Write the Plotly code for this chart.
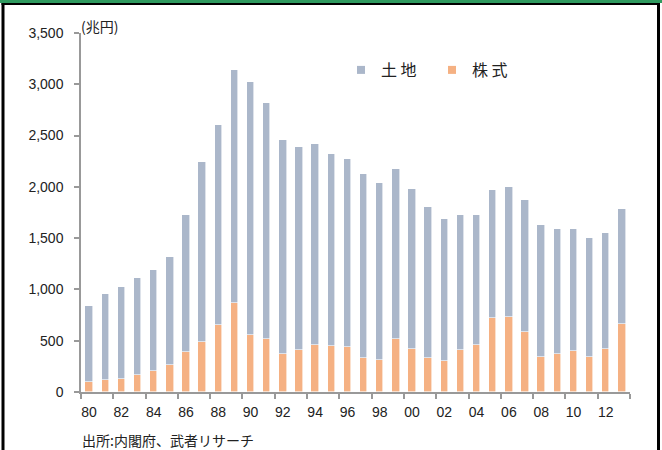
import plotly.graph_objects as go

years = list(range(1980, 2014))
land_total = [838, 958, 1027, 1108, 1189, 1319, 1729, 2239, 2603, 3139,
              3019, 2820, 2454, 2386, 2415, 2320, 2269, 2122, 2038, 2171,
              1982, 1807, 1687, 1729, 1729, 1969, 1996, 1875, 1631, 1592,
              1592, 1498, 1553, 1781]
stocks = [100, 114, 127, 169, 205, 263, 393, 490, 653, 868,
          556, 517, 367, 409, 461, 448, 436, 328, 315, 517,
          422, 328, 302, 409, 461, 718, 731, 585, 341, 367,
          397, 341, 419, 665]
land = [t - s for t, s in zip(land_total, stocks)]
tick_years = list(range(1980, 2014, 2))
tick_labels = ["80", "82", "84", "86", "88", "90", "92", "94", "96", "98",
               "00", "02", "04", "06", "08", "10", "12"]
y_ticks = [0, 500, 1000, 1500, 2000, 2500, 3000, 3500]
y_labels = ["0", "500", "1,000", "1,500", "2,000", "2,500", "3,000", "3,500"]

LAND_C = "#abb7ca"
STOCK_C = "#f5b183"

W, H = 662, 450
L, R, T, B = 81, 32, 33, 58
PW, PH = W - L - R, H - T - B

def px(x):
    return (x - L) / PW

def py(y):
    return (H - B - y) / PH

fig = go.Figure()
fig.add_bar(x=years, y=stocks, name="株式", marker=dict(color=STOCK_C, line=dict(color="white", width=0.6)),
            width=0.46, showlegend=False)
fig.add_bar(x=years, y=land, name="土地", marker=dict(color=LAND_C, line=dict(color="white", width=0.6)),
            width=0.46, showlegend=False)
# legend proxies
fig.add_scatter(x=[None], y=[None], mode="markers", name="土 地",
                marker=dict(symbol="square", size=8, color=LAND_C))
fig.add_scatter(x=[None], y=[None], mode="markers", name="株 式",
                marker=dict(symbol="square", size=8, color=STOCK_C))

shapes = [
    dict(type="rect", xref="paper", yref="paper", x0=px(0), x1=px(W), y0=py(0), y1=py(3),
         fillcolor="#2f9a5f", line=dict(width=0), layer="above"),
    dict(type="rect", xref="paper", yref="paper", x0=px(1.5), x1=px(657), y0=py(3), y1=py(5),
         fillcolor="black", line=dict(width=0), layer="above"),
    dict(type="rect", xref="paper", yref="paper", x0=px(1.5), x1=px(4.5), y0=py(3), y1=py(H),
         fillcolor="black", line=dict(width=0), layer="above"),
    dict(type="rect", xref="paper", yref="paper", x0=px(657), x1=px(660), y0=py(3), y1=py(H),
         fillcolor="black", line=dict(width=0), layer="above"),
]

fig.update_layout(
    width=W, height=H,
    margin=dict(l=L, r=R, t=T, b=B, pad=0),
    barmode="stack",
    bargap=0,
    paper_bgcolor="white", plot_bgcolor="white",
    font=dict(family="Liberation Sans, Arial, sans-serif", size=14, color="#222222"),
    showlegend=True,
    legend=dict(orientation="h", x=px(341), y=py(53), xanchor="left", yanchor="top",
                font=dict(family="Noto Sans CJK JP", size=16, color="#222222"),
                bgcolor="rgba(0,0,0,0)", entrywidth=46, itemwidth=30, traceorder="normal"),
    shapes=shapes,
    annotations=[
        dict(text="(兆円)", xref="paper", yref="paper", x=px(79), y=py(26), xanchor="left",
             yanchor="middle", showarrow=False,
             font=dict(family="Noto Sans CJK JP", size=14, color="#222222")),
        dict(text="出所:内閣府、武者リサーチ", xref="paper", yref="paper", x=px(80), y=py(440),
             xanchor="left", yanchor="middle", showarrow=False,
             font=dict(family="Noto Sans CJK JP", size=14, color="#222222")),
    ],
)
fig.update_xaxes(
    range=[1979.5, 2013.5], tickmode="array", tickvals=tick_years, ticktext=tick_labels,
    ticks="", showgrid=False, zeroline=False, showline=True, linecolor="#999999", linewidth=1.5,
    tickfont=dict(size=14), ticklabelstandoff=6,
    minor=dict(tickmode="array", tickvals=[y - 0.5 for y in tick_years] + [2013.5],
               ticks="outside", ticklen=5, tickcolor="#999999", tickwidth=1.5, showgrid=False),
)
fig.update_yaxes(
    range=[0, 3500], tickmode="array", tickvals=y_ticks, ticktext=y_labels,
    ticks="outside", ticklen=5, tickcolor="#999999", tickwidth=1.5,
    showgrid=False, zeroline=False, showline=True, linecolor="#999999", linewidth=1.5,
    tickfont=dict(size=14), ticklabelstandoff=8,
)
fig.write_html("out.html", config={"displayModeBar": False},
               post_script="document.body.style.margin='0';")
